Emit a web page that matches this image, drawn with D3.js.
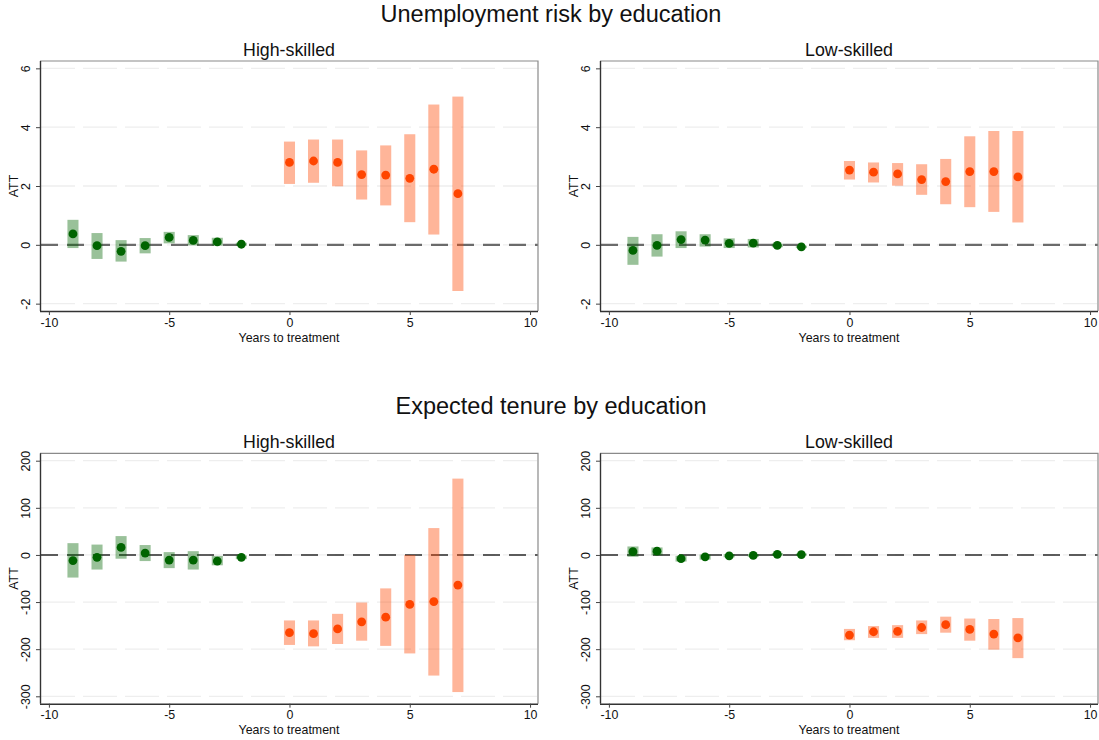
<!DOCTYPE html>
<html>
<head>
<meta charset="utf-8">
<script src="https://cdn.jsdelivr.net/npm/d3@7/dist/d3.min.js"></script>
<style>
  html, body { margin: 0; padding: 0; background: #fff; }
  svg { display: block; font-family: "Liberation Sans", Arial, Helvetica, sans-serif; }
</style>
</head>
<body>
<svg id="chart" width="1099" height="740"></svg>
<script>
// Event-study estimates (ATT) by years to treatment
const years = [-9, -8, -7, -6, -5, -4, -3, -2, 0, 1, 2, 3, 4, 5, 6, 7];

// Unemployment risk, high-skilled
const unempHighEst = [0.37, -0.03, -0.22, -0.03, 0.25, 0.15, 0.10, 0.02, 2.80, 2.85, 2.80, 2.39, 2.37, 2.26, 2.57, 1.74];
const unempHighLo  = [-0.11, -0.48, -0.57, -0.29, 0.05, -0.02, -0.03, -0.03, 2.07, 2.11, 1.99, 1.54, 1.34, 0.77, 0.35, -1.57];
const unempHighHi  = [0.85, 0.40, 0.16, 0.23, 0.44, 0.33, 0.24, 0.07, 3.51, 3.58, 3.58, 3.21, 3.38, 3.76, 4.77, 5.04];

// Unemployment risk, low-skilled
const unempLowEst = [-0.19, -0.02, 0.18, 0.16, 0.05, 0.06, -0.02, -0.07, 2.54, 2.47, 2.41, 2.22, 2.15, 2.49, 2.49, 2.31];
const unempLowLo  = [-0.68, -0.40, -0.11, -0.06, -0.11, -0.09, -0.08, -0.11, 2.22, 2.12, 2.01, 1.70, 1.38, 1.28, 1.12, 0.76];
const unempLowHi  = [0.27, 0.36, 0.46, 0.36, 0.22, 0.20, 0.04, -0.03, 2.85, 2.80, 2.78, 2.74, 2.92, 3.69, 3.87, 3.87];

// Expected tenure, high-skilled
const tenureHighEst = [-12, -5, 16, 4, -11, -11, -13, -5, -165, -167, -157, -142, -132, -105, -99, -64];
const tenureHighLo  = [-48, -31, -8, -13, -28, -31, -22, -9, -191, -194, -189, -182, -193, -209, -256, -291];
const tenureHighHi  = [25, 22, 40, 21, 6, 8, -2, -1, -139, -139, -125, -101, -71, 0, 57, 162];

// Expected tenure, low-skilled
const tenureLowEst = [7, 8, -8, -4, -2, -1, 1.4, 0.7, -170, -163, -162, -154, -148, -158, -168, -176];
const tenureLowLo  = [-4, -1, -14, -10, -5, -4, -1.5, -1.5, -181, -176, -176, -168, -165, -182, -201, -219];
const tenureLowHi  = [18, 16, -2, 1, 2, 2, 4, 3, -157, -151, -149, -139, -131, -135, -136, -134];

// Axis ticks
const xTicks = [-10, -5, 0, 5, 10];
const unempTicks = [-2, 0, 2, 4, 6];
const tenureTicks = [-300, -200, -100, 0, 100, 200];

const rowTitles = ["Unemployment risk by education", "Expected tenure by education"];
const panelTitles = ["High-skilled", "Low-skilled"];

const svg = d3.select("#chart");

const colPos = [{ left: 40, right: 538 }, { left: 600, right: 1098 }];
const rowPos = [
  { top: 61, bottom: 311, title: 22, domain: [-2.25, 6.25], ticks: unempTicks,
    zeroColor: "#6b6b6b", zeroWidth: 2.2 },
  { top: 453.3, bottom: 703.7, title: 414, domain: [-315.7, 215.7], ticks: tenureTicks,
    zeroColor: "#2a2a2a", zeroWidth: 1.6 }
];

const panels = [
  { row: 0, col: 0, est: unempHighEst, lo: unempHighLo, hi: unempHighHi },
  { row: 0, col: 1, est: unempLowEst, lo: unempLowLo, hi: unempLowHi },
  { row: 1, col: 0, est: tenureHighEst, lo: tenureHighLo, hi: tenureHighHi },
  { row: 1, col: 1, est: tenureLowEst, lo: tenureLowLo, hi: tenureLowHi }
];

const preColor = "#006400", postColor = "#ff4500";
const barHalf = 0.23; // half bar width in years
const fmt = d => String(d);

// Row titles
rowPos.forEach((r, i) => {
  svg.append("text")
    .attr("x", 551).attr("y", r.title)
    .attr("text-anchor", "middle")
    .attr("font-size", 23.5)
    .attr("fill", "#111")
    .text(rowTitles[i]);
});

panels.forEach(p => {
  const r = rowPos[p.row], c = colPos[p.col];
  const x = d3.scaleLinear().domain([-10.37, 10.33]).range([c.left, c.right]);
  const y = d3.scaleLinear().domain(r.domain).range([r.bottom, r.top]);
  const g = svg.append("g");

  // Panel title
  g.append("text")
    .attr("x", (c.left + c.right) / 2).attr("y", r.top - 5.5)
    .attr("text-anchor", "middle")
    .attr("font-size", 17.8)
    .attr("fill", "#111")
    .text(panelTitles[p.col]);

  // Horizontal gridlines
  g.selectAll(".grid").data(r.ticks).join("line")
    .attr("x1", c.left + 1).attr("x2", c.right)
    .attr("y1", d => y(d)).attr("y2", d => y(d))
    .attr("stroke", "#eeeeee").attr("stroke-width", 1.3)
    .attr("stroke-dasharray", "34,8");

  // Reference line at zero
  g.append("line")
    .attr("x1", c.left + 1).attr("x2", c.right)
    .attr("y1", y(0)).attr("y2", y(0))
    .attr("stroke", r.zeroColor).attr("stroke-width", r.zeroWidth)
    .attr("stroke-dasharray", "17,9");

  const rows = years.map((yr, i) => ({ yr, est: p.est[i], lo: p.lo[i], hi: p.hi[i] }));

  // Confidence interval bars
  g.selectAll(".ci").data(rows).join("rect")
    .attr("x", d => x(d.yr - barHalf))
    .attr("width", d => x(d.yr + barHalf) - x(d.yr - barHalf))
    .attr("y", d => y(d.hi))
    .attr("height", d => Math.max(1.5, y(d.lo) - y(d.hi)))
    .attr("fill", d => d.yr < 0 ? preColor : postColor)
    .attr("fill-opacity", 0.4);

  // Point estimates
  g.selectAll(".pt").data(rows).join("circle")
    .attr("cx", d => x(d.yr))
    .attr("cy", d => y(d.est))
    .attr("r", 4.4)
    .attr("fill", d => d.yr < 0 ? preColor : postColor);

  // Plot frame (top and right)
  g.append("path")
    .attr("d", `M${c.left},${r.top}H${c.right}V${r.bottom}`)
    .attr("fill", "none").attr("stroke", "#8a8a8a").attr("stroke-width", 1.2);

  // Y axis
  const ya = g.append("g")
    .attr("transform", `translate(${c.left},0)`)
    .call(d3.axisLeft(y).tickValues(r.ticks).tickSize(4).tickFormat(fmt));
  ya.select(".domain").attr("stroke", "#333").attr("stroke-width", 1.4)
    .attr("d", `M0.5,${r.top}V${r.bottom}`);
  ya.selectAll(".tick line").attr("stroke", "#444").attr("stroke-width", 1);
  ya.selectAll(".tick text")
    .attr("x", null).attr("dy", null)
    .attr("text-anchor", "middle")
    .attr("transform", "translate(-10,0) rotate(-90)")
    .attr("font-size", 12.4).attr("fill", "#111")
    .attr("font-family", null);

  // X axis
  const xa = g.append("g")
    .attr("transform", `translate(0,${r.bottom})`)
    .call(d3.axisBottom(x).tickValues(xTicks).tickSize(4).tickFormat(fmt));
  xa.select(".domain").attr("stroke", "#333").attr("stroke-width", 1.4)
    .attr("d", `M${c.left},0.5H${c.right}`);
  xa.selectAll(".tick line").attr("stroke", "#444").attr("stroke-width", 1);
  xa.selectAll(".tick text")
    .attr("y", 7).attr("dy", "0.71em")
    .attr("font-size", 12.4).attr("fill", "#111")
    .attr("font-family", null);

  // Axis titles
  g.append("text")
    .attr("transform", `translate(${c.left - 22},${(r.top + r.bottom) / 2}) rotate(-90)`)
    .attr("text-anchor", "middle")
    .attr("font-size", 12.4).attr("fill", "#111")
    .text("ATT");
  g.append("text")
    .attr("x", (c.left + c.right) / 2).attr("y", r.bottom + 30.5)
    .attr("text-anchor", "middle")
    .attr("font-size", 12.4).attr("fill", "#111")
    .text("Years to treatment");
});
</script>
</body>
</html>
